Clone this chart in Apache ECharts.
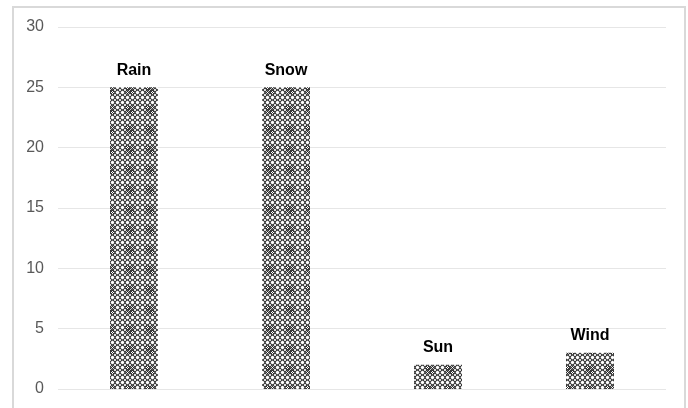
<!DOCTYPE html>
<html>
<head>
<meta charset="utf-8">
<script src="https://cdn.jsdelivr.net/npm/echarts@6/dist/echarts.min.js"></script>
<style>
  html, body { margin: 0; padding: 0; background: #fff; }
  #chart { width: 688px; height: 408px; }
</style>
</head>
<body>
<div id="chart"></div>
<script>
// data
const categories = ['Rain', 'Snow', 'Sun', 'Wind']
const values = [25, 25, 2, 3]
const yTicks = [0, 5, 10, 15, 20, 25, 30]

// hatch tile for the bars (lattice of rings with a dense centre block)
const makeTile = () => {
  const c = document.createElement('canvas')
  c.width = 20
  c.height = 20
  const ctx = c.getContext('2d')
  ctx.fillStyle = '#fff'
  ctx.fillRect(0, 0, 20, 20)
  ctx.strokeStyle = '#222'
  ctx.lineWidth = 1
  for (let i = 0; i < 4; i++) {
    for (let j = 0; j < 4; j++) {
      ctx.beginPath()
      ctx.arc(i * 5 + 2.5, j * 5 + 2.5, 2.2, 0, Math.PI * 2)
      ctx.stroke()
    }
  }
  ctx.fillStyle = '#333'
  for (let x = 6; x < 14; x++) {
    for (let y = 6; y < 14; y++) {
      if ((x + y) % 2 === 0) ctx.fillRect(x, y, 1, 1)
    }
  }
  return c
}

const chart = echarts.init(document.getElementById('chart'))

const option = {
  animation: false,
  graphic: [{
    type: 'rect',
    shape: {x: 13, y: 7, width: 672, height: 420},
    style: {fill: 'none', stroke: '#d9d9d9', lineWidth: 2},
    silent: true
  }],
  grid: {left: 58, right: 22, top: 27, bottom: 19},
  xAxis: {
    type: 'category',
    data: categories,
    axisLine: {show: false},
    axisTick: {show: false},
    axisLabel: {show: false}
  },
  yAxis: {
    type: 'value',
    min: yTicks[0],
    max: yTicks[yTicks.length - 1],
    interval: 5,
    axisLine: {show: false},
    axisTick: {show: false},
    axisLabel: {
      color: '#595959',
      fontSize: 16,
      fontFamily: 'Liberation Sans, Arial, sans-serif',
      margin: 14
    },
    splitLine: {lineStyle: {color: '#e6e6e6', width: 1}}
  },
  series: [{
    type: 'bar',
    data: values,
    barWidth: 48,
    itemStyle: {color: {image: makeTile(), repeat: 'repeat'}},
    label: {
      show: true,
      position: 'top',
      distance: 9,
      formatter: p => categories[p.dataIndex],
      color: '#000',
      fontWeight: 'bold',
      fontSize: 16,
      fontFamily: 'Liberation Sans, Arial, sans-serif'
    }
  }]
}

chart.setOption(option)
</script>
</body>
</html>
